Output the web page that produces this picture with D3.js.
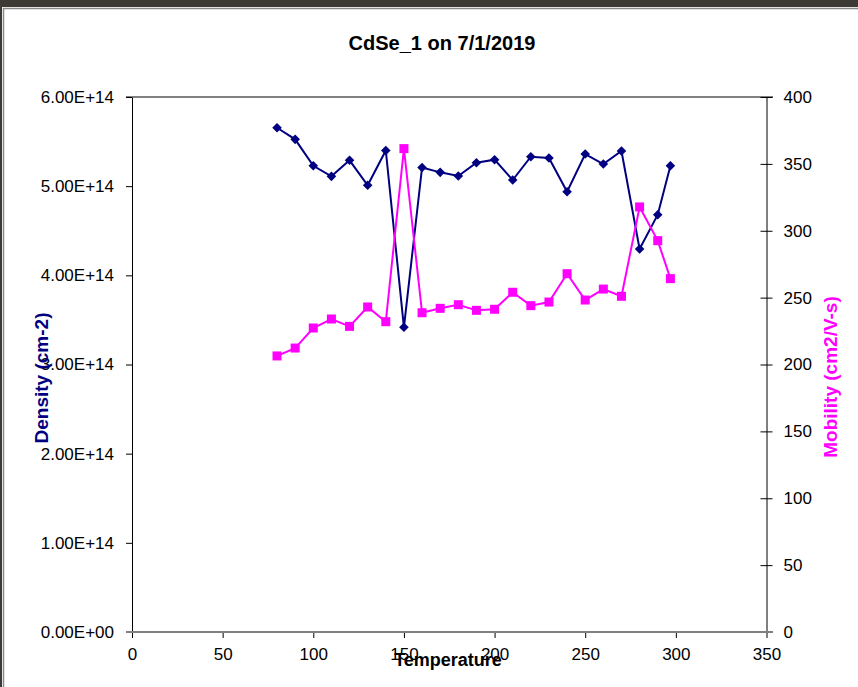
<!DOCTYPE html>
<html>
<head>
<meta charset="utf-8">
<script src="https://cdn.jsdelivr.net/npm/d3@7"></script>
<style>
  html, body { margin: 0; padding: 0; background: #ffffff; }
  svg { display: block; font-family: "Liberation Sans", Arial, sans-serif; }
</style>
</head>
<body>
<svg id="chart" width="858" height="687"></svg>
<script>
// Hall measurement run: sheet density and mobility against temperature
const temperature = [80, 90, 100, 110, 120, 130, 140, 150, 160, 170, 180, 190, 200, 210, 220, 230, 240, 250, 260, 270, 280, 290, 297];
const density = [5.655e14, 5.525e14, 5.229e14, 5.110e14, 5.290e14, 5.010e14, 5.400e14, 3.417e14, 5.210e14, 5.155e14,
                 5.114e14, 5.263e14, 5.297e14, 5.069e14, 5.330e14, 5.316e14, 4.938e14, 5.360e14, 5.248e14, 5.394e14,
                 4.295e14, 4.680e14, 5.229e14];
const mobility = [206.4, 212.3, 227.3, 234.0, 228.5, 243.0, 232.0, 361.4, 238.7, 242.0,
                  244.7, 240.5, 241.3, 254.0, 244.0, 246.7, 267.9, 248.2, 256.4, 251.0,
                  317.8, 292.6, 264.2];
const xTicks = [0, 50, 100, 150, 200, 250, 300, 350];
const densityTicks = [0, 1e14, 2e14, 3e14, 4e14, 5e14, 6e14];
const mobilityTicks = [0, 50, 100, 150, 200, 250, 300, 350, 400];

const titleText = "CdSe_1 on 7/1/2019";
const xTitle = "Temperature";
const yLeftTitle = "Density (cm-2)";
const yRightTitle = "Mobility (cm2/V-s)";

const svg = d3.select("#chart");
const W = 858, H = 687;
const plot = { left: 132, right: 766.5, top: 97, bottom: 632 };

const x = d3.scaleLinear().domain([0, 350]).range([plot.left, plot.right]);
const yL = d3.scaleLinear().domain([0, 6e14]).range([plot.bottom, plot.top]);
const yR = d3.scaleLinear().domain([0, 400]).range([plot.bottom, plot.top]);

// window frame
svg.append("rect").attr("x", 0).attr("y", 0).attr("width", W).attr("height", H).attr("fill", "#ffffff");
svg.append("rect").attr("x", 0).attr("y", 0).attr("width", W).attr("height", 7).attr("fill", "#3d3935");
svg.append("rect").attr("x", 0).attr("y", 0).attr("width", 2).attr("height", H).attr("fill", "#3d3935");
svg.append("line").attr("x1", 3.5).attr("x2", 3.5).attr("y1", 8).attr("y2", H).attr("stroke", "#8a8a8a").attr("stroke-width", 1.5);
svg.append("line").attr("x1", 3).attr("x2", W).attr("y1", 8.5).attr("y2", 8.5).attr("stroke", "#8a8a8a").attr("stroke-width", 1.5);

// scientific tick format like 6.00E+14
function sci(d) {
  if (d === 0) return "0.00E+00";
  const [m, e] = d.toExponential(2).split("e");
  const n = Math.abs(+e);
  return m + "E" + (+e < 0 ? "-" : "+") + (n < 10 ? "0" + n : n);
}

// plot frame: grey top rule
svg.append("line").attr("x1", 126).attr("x2", 773).attr("y1", plot.top).attr("y2", plot.top)
  .attr("stroke", "#808080").attr("stroke-width", 2);

// left axis
const gL = svg.append("g").attr("transform", `translate(${plot.left},0)`)
  .call(d3.axisLeft(yL).tickValues(densityTicks).tickFormat(sci).tickSize(6).tickSizeOuter(0).tickPadding(12));
// right axis, ticks crossing the axis line
const gR = svg.append("g").attr("transform", `translate(${plot.right},0)`)
  .call(d3.axisRight(yR).tickValues(mobilityTicks).tickSize(6).tickSizeOuter(0).tickPadding(11));
gR.selectAll(".tick line").attr("x1", -6).attr("x2", 6);
// bottom axis
const gB = svg.append("g").attr("transform", `translate(0,${plot.bottom})`)
  .call(d3.axisBottom(x).tickValues(xTicks).tickSize(6).tickSizeOuter(0).tickPadding(10));
gB.select(".domain").remove();

[gL, gR, gB].forEach(g => {
  g.selectAll(".domain").attr("stroke", "#000").attr("stroke-width", 1);
  g.selectAll(".tick line").attr("stroke", "#000").attr("stroke-width", 1);
  g.selectAll(".tick text").attr("fill", "#000").style("font-size", "17px")
    .style("font-family", "'Liberation Sans', Arial, sans-serif");
});

// grey bottom rule
svg.append("line").attr("x1", 126).attr("x2", 773).attr("y1", plot.bottom).attr("y2", plot.bottom)
  .attr("stroke", "#808080").attr("stroke-width", 2);

// titles
svg.append("text").attr("x", 442).attr("y", 50).attr("text-anchor", "middle")
  .style("font-size", "20px").style("font-weight", "bold").attr("fill", "#000").text(titleText);
svg.append("text").attr("x", 448).attr("y", 666).attr("text-anchor", "middle")
  .style("font-size", "18px").style("font-weight", "bold").attr("fill", "#000").text(xTitle);
svg.append("text").attr("transform", "translate(47.5,378) rotate(-90)").attr("text-anchor", "middle")
  .style("font-size", "19px").style("font-weight", "bold").attr("fill", "#000080").text(yLeftTitle);
svg.append("text").attr("transform", "translate(837,377) rotate(-90)").attr("text-anchor", "middle")
  .style("font-size", "19px").style("font-weight", "bold").attr("fill", "#ff00ff").text(yRightTitle);

const dens = temperature.map((t, i) => ({ t, v: density[i] }));
const mob = temperature.map((t, i) => ({ t, v: mobility[i] }));

// density series (navy diamonds)
svg.append("path").datum(dens)
  .attr("d", d3.line().x(d => x(d.t)).y(d => yL(d.v)))
  .attr("fill", "none").attr("stroke", "#000080").attr("stroke-width", 2);
svg.append("g").selectAll("path").data(dens).join("path")
  .attr("transform", d => `translate(${x(d.t)},${yL(d.v)})`)
  .attr("d", "M0,-4.8L4.8,0L0,4.8L-4.8,0Z")
  .attr("fill", "#000080");

// mobility series (magenta squares)
svg.append("path").datum(mob)
  .attr("d", d3.line().x(d => x(d.t)).y(d => yR(d.v)))
  .attr("fill", "none").attr("stroke", "#ff00ff").attr("stroke-width", 2);
svg.append("g").selectAll("rect").data(mob).join("rect")
  .attr("x", d => x(d.t) - 4.5).attr("y", d => yR(d.v) - 4.5)
  .attr("width", 9).attr("height", 9)
  .attr("fill", "#ff00ff");
</script>
</body>
</html>
